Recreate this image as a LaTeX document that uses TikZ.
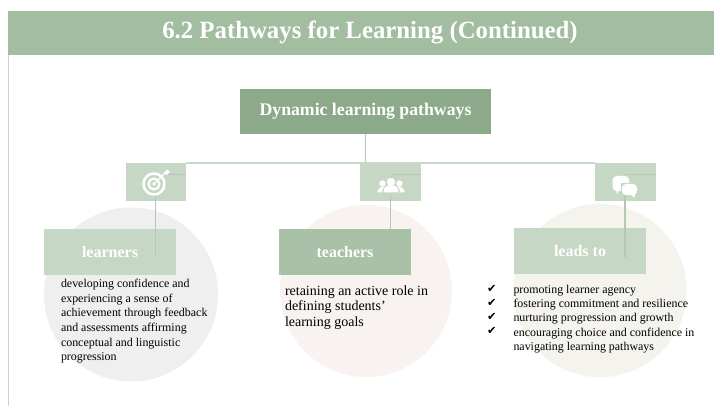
\documentclass[tikz,border=0pt]{standalone}
\usepackage{fontspec}
\setmainfont{Liberation Serif}
\newfontfamily\symfont{DejaVu Sans}
\definecolor{band}{HTML}{A3BDA1}
\definecolor{topbox}{HTML}{8CAA8A}
\definecolor{pale}{HTML}{C7D7C5}
\definecolor{mid}{HTML}{A9C2A7}
\definecolor{link}{HTML}{C9D9C8}
\definecolor{vlink}{HTML}{B4C8B3}
\definecolor{cgrey}{HTML}{F0EFEF}
\definecolor{cpink}{HTML}{F8F3F1}
\definecolor{ccream}{HTML}{F4F3EE}
\definecolor{side}{HTML}{D2D2D2}
\tikzset{x=0.75pt,y=-0.75pt,
 labelbox/.style={rectangle,draw=none,inner sep=0,outer sep=0,minimum width=99pt,minimum height=34.5pt,text=white,font=\fontsize{12pt}{14pt}\selectfont\bfseries},
 iconbox/.style={rectangle,fill=pale,draw=none,inner sep=0,outer sep=0,minimum width=45.5pt,minimum height=28.5pt},
 bodytext/.style={anchor=north west,inner sep=0,outer sep=0,align=left,text=black},
 hlink/.style={draw=link,line width=0.9pt},
 vline/.style={draw=vlink,line width=0.9pt}}
\begin{document}
\begin{tikzpicture}
\useasboundingbox (0,0) rectangle (714,406);
\fill[white] (0,0) rectangle (714,406);
\draw[side,line width=0.8pt] (8.5,55) -- (8.5,406);
% title band
\node[rectangle,fill=band,inner sep=0,outer sep=0,minimum width=529.5pt,minimum height=33pt,text=white,font=\fontsize{18.6pt}{22pt}\selectfont\bfseries] (title) at (361,33) {\hspace*{13.5pt}\raisebox{0.8pt}{6.2 Pathways for Learning (Continued)}};
% circles
\node[circle,fill=cgrey,inner sep=0,outer sep=0,minimum size=130.5pt] (c1) at (131,294.5) {};
\node[circle,fill=cpink,inner sep=0,outer sep=0,minimum size=129pt] (c2) at (366,291) {};
\node[circle,fill=ccream,inner sep=0,outer sep=0,minimum size=130pt] (c3) at (600,290.5) {};
% main box and icon boxes
\node[rectangle,fill=topbox,inner sep=0,outer sep=0,minimum width=188pt,minimum height=34pt,text=white,font=\fontsize{13.3pt}{16pt}\selectfont\bfseries] (main) at (365.5,111.5) {Dynamic learning pathways};
\node[iconbox] (i1) at (156,182) {};
\node[iconbox] (i2) at (390.5,182) {};
\node[iconbox] (i3) at (625.5,182) {};
% label boxes
\node[labelbox,fill=pale] (l1) at (110,252) {learners};
\node[labelbox,fill=mid] (l2) at (345,252) {teachers};
\node[labelbox,fill=pale] (l3) at (580,251) {leads to};
% connectors
\coordinate (j) at (main.south |- i2.north);
\draw[vlink,line width=0.9pt] (main.south) -- (j);
\draw[hlink] (i1.north east) -- (i3.north west);
\coordinate (e1) at (155.5,257);
\coordinate (e2) at (390.5,229);
\coordinate (e3) at (625,257);
\draw[vline] (155.5,195) -- (e1);
\draw[vline] (390.5,195) -- (e2);
\draw[vline] (625,195) -- (e3);
\draw[vline,line width=0.6pt] (168,174.5) -- (186,174.5);
\draw[vline,line width=0.6pt] (391,178) .. controls (391,175) and (393,174.5) .. (396,174.5) -- (421,174.5);
\draw[vline,line width=0.6pt] (625,174.5) -- (656,174.5);
% target icon
\begin{scope}[shift={(154,184)}]
\draw[white,line width=1.9pt] (0,0) circle[radius=10.5];
\draw[white,line width=1.6pt] (0,0) circle[radius=5.5];
\fill[white] (0,0) circle[radius=1.8];
\draw[white,line width=0.9pt] (0,0) -- (11,-11);
\fill[white] (9.5,-11) -- (13,-14.5) -- (16,-12.5) -- (13,-9) -- cycle;
\end{scope}
% people icon
\begin{scope}[shift={(391,185)}]
\fill[white] (0,-3) circle[radius=4.2];
\fill[white] (-7.5,7.5) .. controls (-7.5,1) and (-4,0.5) .. (0,0.5) .. controls (4,0.5) and (7.5,1) .. (7.5,7.5) -- cycle;
\fill[white] (-8.5,-1.5) circle[radius=3.2];
\fill[white] (8.5,-1.5) circle[radius=3.2];
\fill[white] (-14,7.5) .. controls (-12.5,3) and (-10,1.5) .. (-6.5,1.5) .. controls (-8.5,3) and (-9,5) .. (-9,7.5) -- cycle;
\fill[white] (14,7.5) .. controls (12.5,3) and (10,1.5) .. (6.5,1.5) .. controls (8.5,3) and (9,5) .. (9,7.5) -- cycle;
\end{scope}
% chat icon
\begin{scope}[shift={(625,186)}]
\fill[white,rounded corners=3pt] (-12.5,-10) rectangle (4,5);
\fill[white] (-9,3) -- (-5.5,3) -- (-8,8.5) -- cycle;
\fill[pale] (-4.5,-3) rectangle (11.5,10.5);
\fill[white,rounded corners=3pt] (-3,-2) rectangle (12,9);
\fill[white] (5,8) -- (10,8) -- (9.5,12) -- cycle;
\end{scope}
% text
\node[bodytext,font=\fontsize{8.95pt}{11pt}\selectfont] (t1) at (61,279) {developing confidence and\\experiencing a sense of\\achievement through feedback\\and assessments affirming\\conceptual and linguistic\\progression};
\node[bodytext,font=\fontsize{10.5pt}{11.7pt}\selectfont] (t2) at (285,285.5) {retaining an active role in\\defining students'\\learning goals};
\node[bodytext,font=\fontsize{8.95pt}{10.7pt}\selectfont] (t3) at (513.5,285) {promoting learner agency\\fostering commitment and resilience\\nurturing progression and growth\\encouraging choice and confidence in\\navigating learning pathways};
\node[bodytext,font=\symfont\fontsize{8.5pt}{10.7pt}\selectfont] (ck) at (487,285) {✔\\✔\\✔\\✔};
\end{tikzpicture}
\end{document}
